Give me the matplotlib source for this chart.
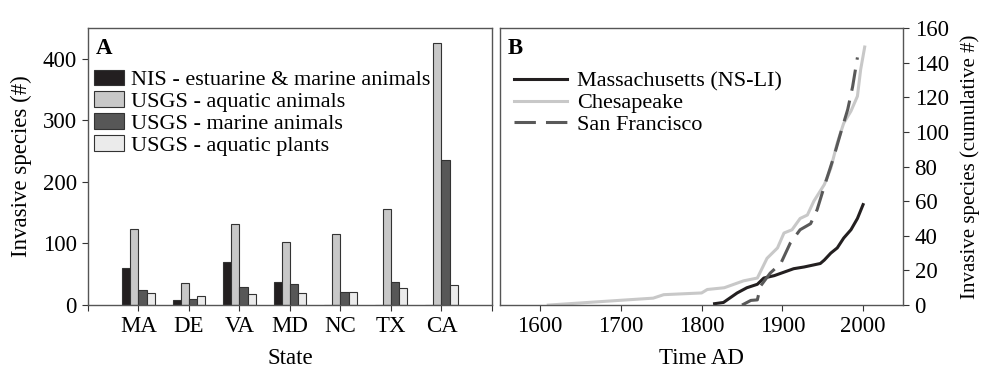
import numpy as np
import matplotlib
matplotlib.use("Agg")
import matplotlib.pyplot as plt

plt.rcParams['font.family'] = ['Liberation Serif', 'DejaVu Serif']

# panel A data
states = ['MA', 'DE', 'VA', 'MD', 'NC', 'TX', 'CA']
nis_marine = [61, 8, 70, 38, 0, 0, 0]
usgs_aquatic = [124, 36, 132, 103, 116, 156, 425]
usgs_marine = [24, 10, 29, 34, 22, 37, 236]
usgs_plants = [19, 15, 18, 19, 22, 28, 32]

# panel B data (cumulative counts)
ma_years = [1816, 1827, 1844, 1856, 1869, 1877, 1890, 1902, 1914, 1927, 1947, 1952, 1960, 1968, 1976, 1985, 1993, 2000]
ma_vals = [0.8, 1.5, 7, 10, 12, 15.6, 17, 19, 21, 22, 24, 26, 30, 33, 38.7, 43.5, 50, 58]
ches_years = [1610, 1740, 1753, 1800, 1807, 1828, 1840, 1852, 1869, 1881, 1894, 1902, 1912, 1922, 1931, 1939, 1952, 1960, 1968, 1976, 1985, 1993, 1997, 2002]
ches_vals = [0, 4, 6, 7, 9, 10, 12, 14, 15.6, 27, 33, 41.6, 43.5, 50, 52, 60, 69.6, 79, 93.6, 105, 112, 120.6, 136, 149]
sf_years = [1850, 1861, 1869, 1873, 1885, 1898, 1910, 1922, 1935, 1943, 1952, 1964, 1972, 1981, 1987, 1993]
sf_vals = [0, 2.7, 3, 11, 18.5, 24, 36, 43.5, 47, 55, 68.6, 86, 99, 113, 126, 143]

fs = 16.5
lfs = 16
fig = plt.figure(figsize=(9.82, 3.68), dpi=100)
axA = fig.add_axes([0.0896, 0.171, 0.4114, 0.753])
axB = fig.add_axes([0.509, 0.171, 0.411, 0.753])

# ---- panel A
x = np.arange(1, len(states) + 1)
w = 0.16
series = [(nis_marine, '#231f20', 'NIS - estuarine & marine animals'),
          (usgs_aquatic, '#c8c8c8', 'USGS - aquatic animals'),
          (usgs_marine, '#575757', 'USGS - marine animals'),
          (usgs_plants, '#ebebeb', 'USGS - aquatic plants')]
for i, (vals, col, lab) in enumerate(series):
    axA.bar(x + (i - 1.5) * w, vals, w, color=col, edgecolor='#333333',
            linewidth=0.8, label=lab)
axA.set_xlim(0, 8)
axA.set_ylim(0, 450)
axA.set_xticks(range(0, 9))
axA.set_xticklabels([''] + states + [''])
axA.set_yticks([0, 100, 200, 300, 400])
axA.set_xlabel('State', fontsize=fs, labelpad=8)
axA.set_ylabel('Invasive species (#)', fontsize=fs, labelpad=8)
axA.text(0.02, 0.965, 'A', transform=axA.transAxes, fontsize=fs,
         fontweight='bold', va='top', ha='left')
axA.legend(loc='upper left', bbox_to_anchor=(0.015, 0.85), frameon=False,
           fontsize=lfs, labelspacing=0.06, handlelength=1.35,
           handletextpad=0.3, borderaxespad=0, borderpad=0)

# ---- panel B
axB.plot(ma_years, ma_vals, color='#231f20', lw=2.2, label='Massachusetts (NS-LI)')
axB.plot(ches_years, ches_vals, color='#c8c8c8', lw=2.2, label='Chesapeake')
axB.plot(sf_years, sf_vals, color='#595959', lw=2.2, dashes=(7, 3.3),
         label='San Francisco')
axB.set_xlim(1550, 2050)
axB.set_ylim(0, 160)
axB.set_xticks([1600, 1700, 1800, 1900, 2000])
axB.set_yticks(range(0, 161, 20))
axB.yaxis.tick_right()
axB.yaxis.set_label_position('right')
axB.set_xlabel('Time AD', fontsize=fs, labelpad=8)
axB.set_ylabel('Invasive species (cumulative #)', fontsize=15, labelpad=8)
axB.text(0.02, 0.965, 'B', transform=axB.transAxes, fontsize=fs,
         fontweight='bold', va='top', ha='left')
axB.legend(loc='upper left', bbox_to_anchor=(0.035, 0.845), frameon=False,
           fontsize=lfs, labelspacing=0.06, handlelength=2.4,
           handletextpad=0.45, borderaxespad=0, borderpad=0)

for ax in (axA, axB):
    for s in ax.spines.values():
        s.set_color('#555555')
        s.set_linewidth(1.0)
    ax.tick_params(labelsize=fs, length=4, width=0.8, color='#333333',
                   direction='out', pad=4)

fig.savefig('out.png', dpi=100)
